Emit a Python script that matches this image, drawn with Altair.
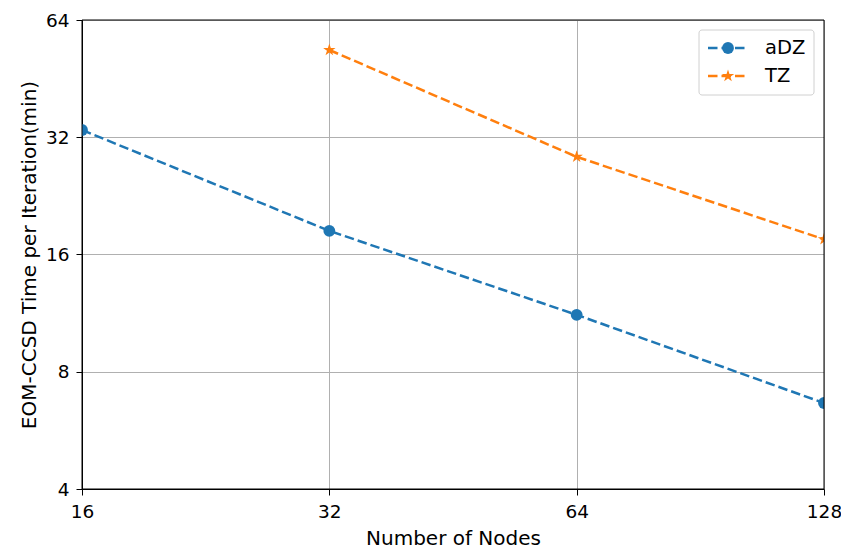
import altair as alt
import pandas as pd

nodes_adz = [16, 32, 64, 128]
time_adz = [33.4, 18.4, 11.2, 6.65]
nodes_tz = [32, 64, 128]
time_tz = [53.6, 28.5, 17.5]
x_ticks = [16, 32, 64, 128]
y_ticks = [4, 8, 16, 32, 64]
series = ["aDZ", "TZ"]
colors = ["#1f77b4", "#ff7f0e"]
STAR = ("M0,-1L0.2245,-0.309L0.951,-0.309L0.3633,0.118L0.588,0.809L0,0.382"
        "L-0.588,0.809L-0.3633,0.118L-0.951,-0.309L-0.2245,-0.309Z")
shapes = ["circle", STAR]
sizes = [140, 170]

W, H = 742, 469
df = pd.DataFrame(
    {"nodes": nodes_adz + nodes_tz,
     "time": time_adz + time_tz,
     "series": ["aDZ"] * len(nodes_adz) + ["TZ"] * len(nodes_tz)}
)

font = "DejaVu Sans"
LFS = 18.5
TFS = 20
axis_common = dict(format="d", grid=True, gridColor="#b0b0b0", gridWidth=1,
                   domainColor="black", domainWidth=1, tickColor="black", tickSize=6,
                   labelFontSize=LFS, titleFontSize=TFS, labelFont=font, titleFont=font,
                   labelColor="black", titleColor="black", titleFontWeight="normal",
                   labelFlush=False)
xs = alt.X("nodes:Q", scale=alt.Scale(type="log", base=2, domain=[16, 128], nice=False),
           axis=alt.Axis(values=x_ticks, title="Number of Nodes",
                         labelPadding=7, titlePadding=8, **axis_common))
ys = alt.Y("time:Q", scale=alt.Scale(type="log", base=2, domain=[4, 64], nice=False),
           axis=alt.Axis(values=y_ticks, title="EOM-CCSD Time per Iteration(min)",
                         labelPadding=7, titlePadding=6, **axis_common))
color = alt.Color("series:N", scale=alt.Scale(domain=series, range=colors), legend=None)
shape = alt.Shape("series:N", scale=alt.Scale(domain=series, range=shapes), legend=None)
size = alt.Size("series:N", scale=alt.Scale(domain=series, range=sizes), legend=None)

DASH = [9.5, 4]
LW = 2.5
base = alt.Chart(df)
lines = base.mark_line(strokeDash=DASH, strokeWidth=LW, clip=True).encode(
    x=xs, y=ys, color=color, detail="series:N")
pts = base.mark_point(filled=True, opacity=1, clip=True).encode(
    x=xs, y=ys, color=color, shape=shape, size=size)

one = pd.DataFrame({"a": [0]})
frame = alt.Chart(one).mark_rect(fill="transparent", stroke="black", strokeWidth=1).encode(
    x=alt.value(0), x2=alt.value(W), y=alt.value(0), y2=alt.value(H))

# manual legend (pixel placement inside the plot area)
box = alt.Chart(one).mark_rect(
    fill="white", stroke="#cccccc", strokeWidth=1, cornerRadius=3, opacity=0.9).encode(
    x=alt.value(617), x2=alt.value(732), y=alt.value(10), y2=alt.value(75))
legend_layers = [box]
for name, col, shp, sz, yy in zip(series, colors, shapes, sizes, [28, 56]):
    legend_layers.append(alt.Chart(one).mark_rule(strokeDash=DASH, strokeWidth=LW, color=col).encode(
        x=alt.value(626), x2=alt.value(666), y=alt.value(yy)))
    legend_layers.append(alt.Chart(one).mark_point(filled=True, size=sz, opacity=1, color=col, shape=shp).encode(
        x=alt.value(646), y=alt.value(yy)))
    legend_layers.append(alt.Chart(one).mark_text(align="left", baseline="middle", fontSize=19.5,
                                                  font=font, color="black", text=name).encode(
        x=alt.value(683), y=alt.value(yy)))

chart = alt.layer(lines, pts, frame, *legend_layers).properties(
    width=W, height=H,
    autosize=alt.AutoSizeParams(type="none"),
    padding={"left": 74, "top": 12, "right": 17, "bottom": 60},
).configure_view(stroke=None)

chart.save("out.html", embed_options={"renderer": "svg", "actions": False})
